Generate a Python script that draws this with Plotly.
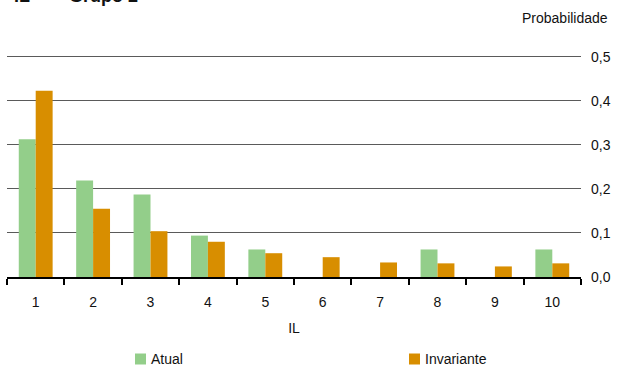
import plotly.graph_objects as go

# IL categories and probability per series
categories = ["1", "2", "3", "4", "5", "6", "7", "8", "9", "10"]
atual = [0.3125, 0.219, 0.1875, 0.094, 0.0625, 0.0, 0.0, 0.0625, 0.0, 0.0625]
invariante = [0.423, 0.155, 0.104, 0.080, 0.054, 0.045, 0.033, 0.031, 0.024, 0.031]
y_ticks = [0.0, 0.1, 0.2, 0.3, 0.4, 0.5]

GREEN = "#93CE8A"
ORANGE = "#D88E00"
FONT = "Liberation Sans, Arial, sans-serif"

W, H = 619, 367
ML, MR, MT, MB = 7, 38, 55, 90
PW = W - ML - MR
PH = H - MT - MB


def px_x(px):
    return (px - ML) / PW


def px_y(py):
    return (H - MB - py) / PH


fig = go.Figure()
fig.add_trace(go.Bar(x=categories, y=atual, name="Atual", marker_color=GREEN, marker_line_width=0))
fig.add_trace(go.Bar(x=categories, y=invariante, name="Invariante", marker_color=ORANGE, marker_line_width=0))

fig.update_layout(
    width=W, height=H,
    margin=dict(l=ML, r=MR, t=MT, b=MB),
    paper_bgcolor="white", plot_bgcolor="white",
    barmode="group", bargap=0.41, bargroupgap=0,
    showlegend=False,
    separators=",.",
    font=dict(family=FONT, size=14, color="#111"),
)

fig.update_xaxes(
    type="category",
    showline=True, linecolor="black", linewidth=2,
    ticks="outside", tickson="boundaries", ticklen=6, tickwidth=2, tickcolor="black",
    showgrid=False,
    ticklabelstandoff=11,
    tickfont=dict(size=14),
    title=dict(text="IL", font=dict(size=14), standoff=14),
    automargin=False,
)

# headroom above 0.5 keeps its gridline drawn
fig.update_yaxes(
    side="right", range=[0, 0.504],
    tickvals=y_ticks, tickformat=".1f",
    showgrid=True, gridcolor="#5a5a5a", gridwidth=1,
    zeroline=False, showline=False, ticks="",
    ticklabelstandoff=9,
    tickfont=dict(size=14),
    automargin=False,
)

# Heading and axis caption
fig.add_annotation(text="<b>IL</b>", xref="paper", yref="paper", x=px_x(12), y=px_y(-4),
                   xanchor="left", yanchor="middle", showarrow=False, font=dict(size=18))
fig.add_annotation(text="<b>Grupo 2</b>", xref="paper", yref="paper", x=px_x(67), y=px_y(-4),
                   xanchor="left", yanchor="middle", showarrow=False, font=dict(size=18))
fig.add_annotation(text="Probabilidade", xref="paper", yref="paper", x=px_x(610), y=px_y(18),
                   xanchor="right", yanchor="middle", showarrow=False, font=dict(size=14))

# Legend entries
legend_items = [("Atual", GREEN, 135), ("Invariante", ORANGE, 409)]
for label, color, left in legend_items:
    fig.add_shape(type="rect", xref="paper", yref="paper",
                  x0=px_x(left), x1=px_x(left + 11), y0=px_y(364.5), y1=px_y(353.5),
                  fillcolor=color, line_width=0)
    fig.add_annotation(text=label, xref="paper", yref="paper", x=px_x(left + 14), y=px_y(359),
                       xanchor="left", yanchor="middle", showarrow=False, font=dict(size=14))

fig.write_html("out.html")
